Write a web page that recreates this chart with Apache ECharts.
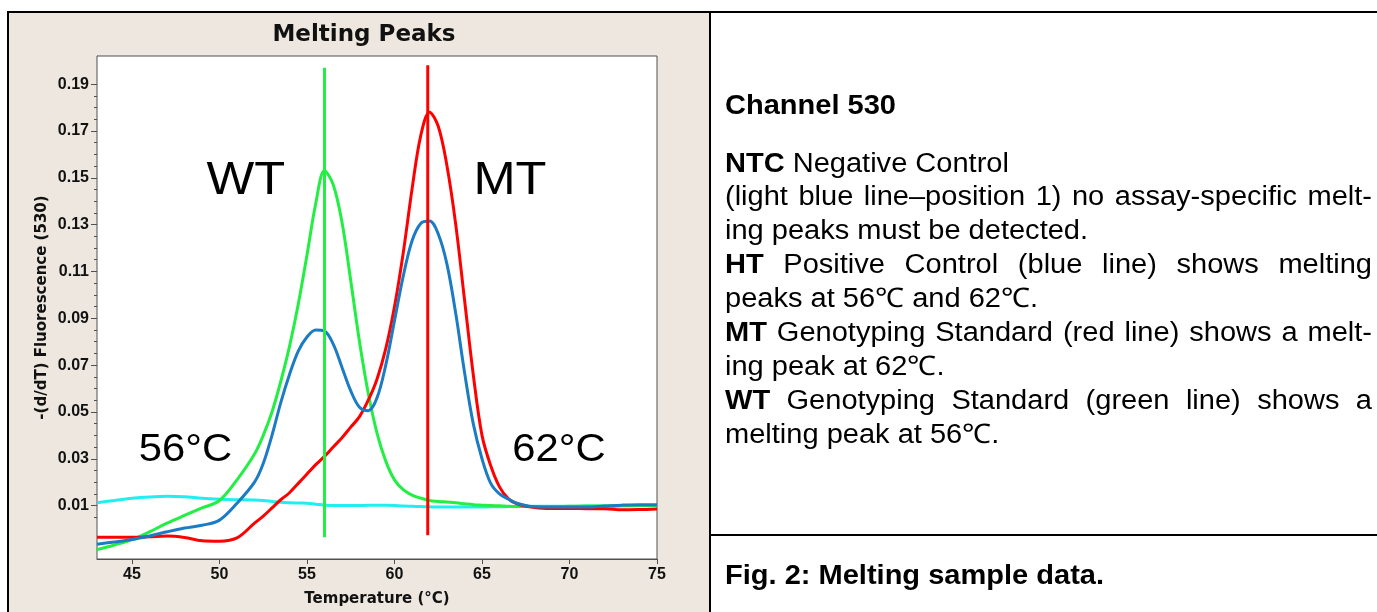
<!DOCTYPE html>
<html>
<head>
<meta charset="utf-8">
<script src="https://cdn.jsdelivr.net/npm/echarts@6/dist/echarts.min.js"></script>
<style>html,body{margin:0;padding:0;background:#ffffff}#c{width:1377px;height:612px}</style>
</head>
<body>
<div id="c"></div>
<script>
// ---------- data ----------
const temps = [43,44,45,46,47,48,49,50,51,52,52.5,53,53.5,54,54.5,55,55.5,56,56.5,57,57.5,58,58.5,59,59.5,60,60.5,61,61.5,62,62.5,63,63.5,64,64.5,65,65.5,66,66.5,67,68,69,70,71,72,73,74,75];
const ntc = [0.0112,0.0122,0.0131,0.0137,0.0140,0.0138,0.0131,0.0127,0.0125,0.0124,0.0122,0.0118,0.0114,0.0112,0.0111,0.0110,0.0106,0.0102,0.0100,0.0100,0.0100,0.0100,0.0101,0.0101,0.0101,0.0100,0.0098,0.0097,0.0096,0.0095,0.0094,0.0094,0.0094,0.0094,0.0094,0.0094,0.0095,0.0095,0.0096,0.0096,0.0097,0.0097,0.0097,0.0098,0.0098,0.0099,0.0100,0.0100];
const wt  = [-0.0088,-0.0068,-0.0045,-0.0012,0.0025,0.0058,0.0090,0.0122,0.0210,0.0320,0.0400,0.0500,0.0630,0.0780,0.0960,0.1170,0.1390,0.1530,0.1470,0.1310,0.1060,0.0800,0.0580,0.0410,0.0290,0.0210,0.0168,0.0145,0.0132,0.0122,0.0118,0.0115,0.0112,0.0108,0.0104,0.0102,0.0100,0.0099,0.0097,0.0096,0.0096,0.0096,0.0097,0.0098,0.0098,0.0099,0.0099,0.0099];
const mt  = [-0.0035,-0.0035,-0.0035,-0.0033,-0.0030,-0.0036,-0.0050,-0.0052,-0.0038,0.0025,0.0055,0.0090,0.0125,0.0155,0.0195,0.0235,0.0275,0.0310,0.0350,0.0390,0.0435,0.0480,0.0550,0.0640,0.0770,0.0950,0.1180,0.1450,0.1680,0.1780,0.1720,0.1550,0.1300,0.0980,0.0660,0.0400,0.0270,0.0180,0.0130,0.0108,0.0092,0.0088,0.0088,0.0087,0.0087,0.0082,0.0083,0.0085];
const ht  = [-0.0065,-0.0055,-0.0045,-0.0030,-0.0012,0.0004,0.0016,0.0038,0.0110,0.0200,0.0280,0.0400,0.0540,0.0660,0.0760,0.0820,0.0850,0.0845,0.0790,0.0690,0.0590,0.0520,0.0505,0.0560,0.0700,0.0890,0.1080,0.1230,0.1305,0.1315,0.1260,0.1130,0.0920,0.0670,0.0450,0.0300,0.0195,0.0150,0.0128,0.0110,0.0095,0.0094,0.0094,0.0094,0.0098,0.0102,0.0104,0.0104];
const wtMarker = [[56, -0.0035], [56, 0.197]];
const mtMarker = [[61.9, -0.0027], [61.9, 0.198]];
const yLabelValues = [0.01,0.03,0.05,0.07,0.09,0.11,0.13,0.15,0.17,0.19];
const yMinorValues = [0.005,0.01,0.015,0.02,0.025,0.03,0.035,0.04,0.045,0.05,0.055,0.06,0.065,0.07,0.075,0.08,0.085,0.09,0.095,0.1,0.105,0.11,0.115,0.12,0.125,0.13,0.135,0.14,0.145,0.15,0.155,0.16,0.165,0.17,0.175,0.18,0.185,0.19];
const xLabelValues = [45,50,55,60,65,70,75];
const annotations = [
  {text:'WT', t:51.5, v:0.1484, size:46},
  {text:'MT', t:66.6, v:0.1484, size:46},
  {text:'56°C', t:48.05, v:0.0336, size:38},
  {text:'62°C', t:69.4, v:0.0336, size:38}
];
const titleText = 'Melting Peaks';
const xName = 'Temperature (°C)';
const yName = '-(d/dT) Fluorescence (530)';
const infoLines = [
  [['Channel 530', 1]],
  [['NTC', 1], [' Negative Control', 0]],
  [['(light blue line–position 1) no assay-specific melt-', 0]],
  [['ing peaks must be detected.', 0]],
  [['HT', 1], [' Positive Control (blue line) shows melting', 0]],
  [['peaks at 56℃ and 62℃.', 0]],
  [['MT', 1], [' Genotyping Standard (red line) shows a melt-', 0]],
  [['ing peak at 62℃.', 0]],
  [['WT', 1], [' Genotyping Standard (green line) shows a', 0]],
  [['melting peak at 56℃.', 0]]
];
const justified = [false,false,true,false,true,false,true,false,true,false];
const caption = 'Fig. 2: Melting sample data.';

// ---------- layout / style ----------
const LIB = '"Liberation Sans", Arial, sans-serif';
const DJV = '"DejaVu Sans", sans-serif';
const BEIGE = '#EDE7DF';
const lineY = [106.5,165,198,232,266,300,334,368,402,436];
const BODY = {size:27, sx:1.075, left:725, right:1372};

const chart = echarts.init(document.getElementById('c'), null, {renderer:'canvas', width:1377, height:612});
const pairs = arr => temps.map((t,i)=>[t, arr[i]]);

const curve = (name, arr, color) => ({
  name, type:'line', data:pairs(arr), showSymbol:false, smooth:0.35,
  lineStyle:{color, width:3}, itemStyle:{color}, animation:false
});
const marker = (name, arr, color) => ({
  name, type:'line', data:arr, showSymbol:false,
  lineStyle:{color, width:3}, itemStyle:{color}, animation:false, z:5
});

chart.setOption({
  animation:false,
  backgroundColor:'#ffffff',
  grid:{left:97, top:56, width:560, height:509, show:true, backgroundColor:'#ffffff', borderColor:'#505050', borderWidth:1, z:1},
  xAxis:{
    type:'value', min:43, max:75,
    axisLine:{show:true, onZero:false, lineStyle:{color:'#505050', width:1}},
    axisTick:{show:true, customValues:xLabelValues, length:5, lineStyle:{color:'#505050'}},
    axisLabel:{customValues:xLabelValues, fontFamily:LIB, fontWeight:'bold', fontSize:16, color:'#111', margin:8},
    splitLine:{show:false},
    name:xName, nameLocation:'middle', nameGap:33,
    nameTextStyle:{fontFamily:DJV, fontWeight:'bold', fontSize:15, color:'#111'}
  },
  yAxis:[{
    type:'value', min:-0.0128, max:0.202,
    axisLine:{show:true, onZero:false, lineStyle:{color:'#505050', width:1}},
    axisTick:{show:true, customValues:yMinorValues, length:3, lineStyle:{color:'#505050'}},
    axisLabel:{customValues:yLabelValues, formatter:v=>v.toFixed(2), fontFamily:LIB, fontWeight:'bold', fontSize:16, color:'#111', margin:8},
    splitLine:{show:false},
    name:yName, nameLocation:'middle', nameGap:47,
    nameTextStyle:{fontFamily:DJV, fontWeight:'bold', fontSize:15, color:'#111'}
  },{
    type:'value', min:-0.0128, max:0.202, position:'left',
    axisLine:{show:false},
    axisTick:{show:true, customValues:yLabelValues, length:6, lineStyle:{color:'#505050'}},
    axisLabel:{show:false}, splitLine:{show:false}
  }],
  series:[
    curve('NTC', ntc, '#22eef0'),
    curve('WT', wt, '#22ee44'),
    curve('MT', mt, '#ff0000'),
    curve('HT', ht, '#1b7cc4'),
    marker('WT 56°C', wtMarker, '#22ee44'),
    marker('MT 62°C', mtMarker, '#ff0000')
  ]
});

// ---------- graphics (panels, texts) ----------
const ctx = document.createElement('canvas').getContext('2d');
function measure(t, b, size){ ctx.font = (b?'bold ':'') + size + 'px "Liberation Sans"'; return ctx.measureText(t).width; }
function textEl(t, b, x, y, size, sx, align){
  return {type:'text', x, y, scaleX:sx, z:20,
    style:{text:t, font:(b?'bold ':'') + size + 'px ' + LIB, fill:'#000',
      textAlign:align||'left', align:align||'left', textVerticalAlign:'middle', verticalAlign:'middle'}};
}
const g = [];
g.push({type:'rect', z:-10, shape:{x:8, y:12, width:702, height:600}, style:{fill:BEIGE}});
g.push({type:'line', z:15, shape:{x1:7, y1:12, x2:1377, y2:12}, style:{stroke:'#000', lineWidth:2}});
g.push({type:'line', z:15, shape:{x1:8, y1:11, x2:8, y2:612}, style:{stroke:'#000', lineWidth:2}});
g.push({type:'line', z:15, shape:{x1:710, y1:11, x2:710, y2:612}, style:{stroke:'#000', lineWidth:2}});
g.push({type:'line', z:15, shape:{x1:710, y1:535, x2:1377, y2:535}, style:{stroke:'#000', lineWidth:2}});
g.push({type:'text', x:364, y:35, z:20, style:{text:titleText, font:'bold 23px ' + DJV, fill:'#111',
  textAlign:'center', align:'center', textVerticalAlign:'middle', verticalAlign:'middle'}});

infoLines.forEach((segs, i) => {
  const y = lineY[i];
  if (justified[i]) {
    const words = [];
    segs.forEach(([t,b]) => t.split(' ').filter(w=>w).forEach(w=>words.push([w,b])));
    const widths = words.map(([w,b]) => measure(w,b,BODY.size)*BODY.sx);
    const total = widths.reduce((a,c)=>a+c,0);
    const gap = (BODY.right - BODY.left - total)/(words.length-1);
    let x = BODY.left;
    words.forEach(([w,b],k)=>{ g.push(textEl(w,b,x,y,BODY.size,BODY.sx)); x += widths[k] + gap; });
  } else {
    let x = BODY.left;
    segs.forEach(([t,b])=>{ g.push(textEl(t,b,x,y,BODY.size,BODY.sx)); x += measure(t,b,BODY.size)*BODY.sx; });
  }
});
g.push(textEl(caption, 1, BODY.left, 577, BODY.size, BODY.sx));

annotations.forEach(a => {
  const p = chart.convertToPixel({gridIndex:0}, [a.t, a.v]);
  g.push(textEl(a.text, 0, p[0], p[1], a.size, 1.1, 'center'));
});

chart.setOption({graphic:{elements:g}});
</script>
</body>
</html>
